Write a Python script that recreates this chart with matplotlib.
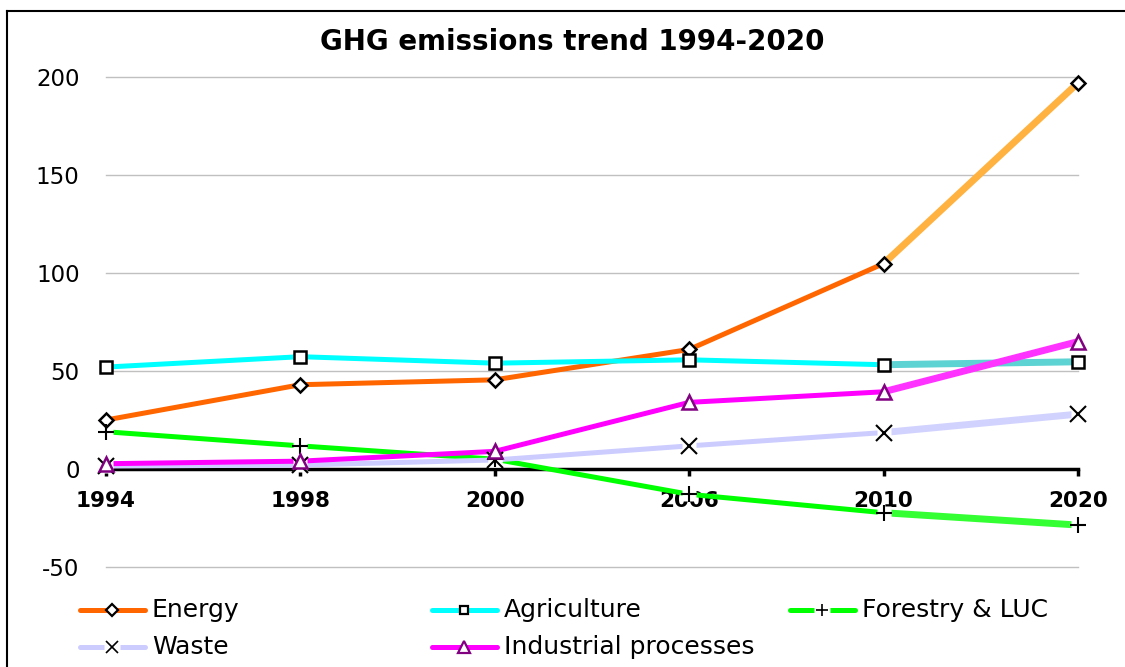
import matplotlib as mpl
mpl.use('Agg')

import matplotlib.pyplot as plt
from matplotlib.lines import Line2D

plt.rcParams['axes.unicode_minus'] = False

years = ['1994', '1998', '2000', '2006', '2010', '2020']
energy = [25, 43, 45.5, 61, 104.8, 197]
agriculture = [52, 57.3, 54, 55.7, 53.2, 54.7]
forestry = [19, 11.8, 5, -12.9, -22.3, -28.6]
waste = [1.5, 2, 4.6, 11.8, 18.6, 28]
industrial = [2.7, 4, 9, 34, 39.4, 65]

series_names = ['Energy', 'Agriculture', 'Forestry & LUC', 'Waste', 'Industrial processes']
series_values = [energy, agriculture, forestry, waste, industrial]
line_colors = ['#FF6600', '#00FFFF', '#00FF00', '#CCCCFF', '#FF00FF']
proj_colors = ['#FFB240', '#5ED3D3', '#33FF33', '#D2D2FF', '#FF33FF']
markers = ['D', 's', '+', 'x', '^']
marker_sizes = [7.5, 8, 11, 11, 10]
edge_colors = ['black', 'black', 'black', 'black', '#800080']


def main():
    fig = plt.figure(figsize=(11.25, 6.67), dpi=100)
    W, H = 1125.0, 667.0
    ax = fig.add_axes([106 / W, 1 - 567 / H, (1078 - 106) / W, (567 - 77) / H])

    for s in ['left', 'right', 'top']:
        ax.spines[s].set_visible(False)
    ax.spines['bottom'].set_position(('data', 0))
    ax.spines['bottom'].set_linewidth(2.5)
    ax.spines['bottom'].set_zorder(2)

    x = list(range(len(years)))
    for vals, lc, pc, mk, ms, ec in zip(series_values, line_colors, proj_colors,
                                          markers, marker_sizes, edge_colors):
        ax.plot(x[:-1], vals[:-1], color=lc, lw=3.6, zorder=3, solid_capstyle='butt')
        ax.plot(x[-2:], vals[-2:], color=pc, lw=5, zorder=3, solid_capstyle='butt')
        if mk in ('+', 'x'):
            # white box behind the open markers, like the spreadsheet draws it
            ax.plot(x, vals, ls='none', marker='s', ms=ms * 0.9, mfc='white',
                    mec='none', zorder=4, clip_on=False)
            ax.plot(x, vals, ls='none', marker=mk, ms=ms, mec='black', mew=1.5,
                    zorder=5, clip_on=False)
        else:
            ax.plot(x, vals, ls='none', marker=mk, ms=ms, mfc='white', mec=ec,
                    mew=1.8, zorder=5, clip_on=False)

    ax.set_xlim(0, len(years) - 1)
    ax.set_ylim(-50, 200)
    ax.set_yticks([-50, 0, 50, 100, 150, 200])
    ax.set_xticks(x)
    ax.set_xticklabels(years, fontsize=15.5, fontweight='bold')
    for t in ax.get_yticklabels():
        t.set_fontsize(16.5)
    ax.tick_params(axis='y', length=0, pad=19)
    ax.tick_params(axis='x', direction='out', length=5, width=2.5, pad=11, color='black')

    for v in [-50, 50, 100, 150, 200]:
        ax.axhline(v, color='#C0C0C0', lw=1, zorder=1, clip_on=False)

    fig.text(572 / W, 1 - 42 / H, 'GHG emissions trend 1994-2020', ha='center',
             va='center', fontsize=20, fontweight='bold')

    # outer chart border (left and top only visible)
    fig.add_artist(Line2D([7 / W, 7 / W], [0, 1 - 11 / H], color='black', lw=1.5))
    fig.add_artist(Line2D([7 / W, 1], [1 - 11 / H, 1 - 11 / H], color='black', lw=1.5))

    # legend, three equal columns
    col_x = [80, 432, 790]
    row_y = [610, 647]
    for i, name in enumerate(series_names):
        cx = col_x[i % 3]
        cy = 1 - row_y[i // 3] / H
        fig.add_artist(Line2D([cx / W, (cx + 65) / W], [cy, cy], color=line_colors[i],
                              lw=3.6, solid_capstyle='round'))
        mk = markers[i]
        if mk in ('+', 'x'):
            fig.add_artist(Line2D([(cx + 32) / W], [cy], ls='none', marker='s',
                                  ms=marker_sizes[i] * 1.0, mfc='white', mec='none'))
            fig.add_artist(Line2D([(cx + 32) / W], [cy], ls='none', marker=mk,
                                  ms=marker_sizes[i] * 0.8, mec='black', mew=1.2))
        else:
            fig.add_artist(Line2D([(cx + 32) / W], [cy], ls='none', marker=mk,
                                  ms=marker_sizes[i] * 0.8, mfc='white',
                                  mec=edge_colors[i], mew=1.6))
        fig.text((cx + 72) / W, cy, name, fontsize=18, va='center', ha='left')

    fig.savefig('out.png', dpi=100)


if __name__ == '__main__':
    main()
